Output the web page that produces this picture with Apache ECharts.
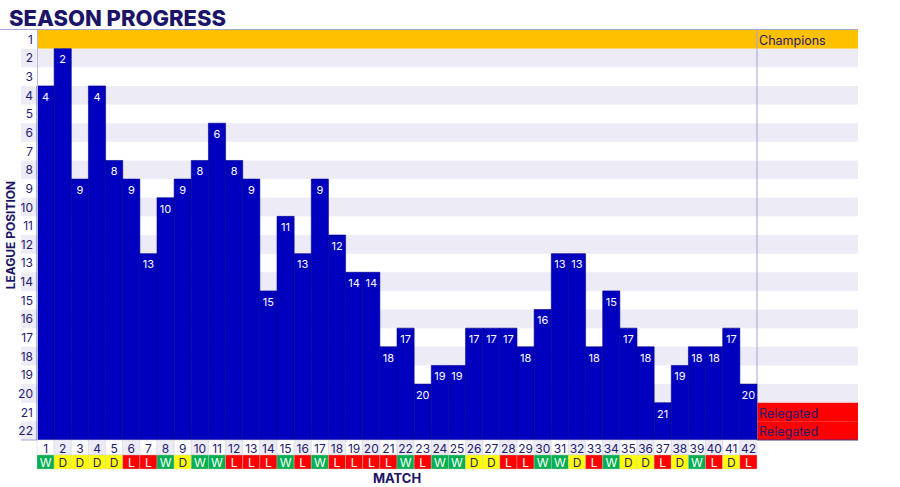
<!DOCTYPE html>
<html><head><meta charset="utf-8">
<script src="https://cdn.jsdelivr.net/npm/echarts@6/dist/echarts.min.js"></script>
<style>html,body{margin:0;padding:0;background:#fff}#c{width:900px;height:487px}</style>
</head><body><div id="c"></div>
<script>
// ---- data ----
const matches = Array.from({length: 42}, (_, i) => String(i + 1));
const positions = [4,2,9,4,8,9,13,10,9,8,6,8,9,15,11,13,9,12,14,14,18,17,20,19,19,17,17,17,18,16,13,13,18,15,17,18,21,19,18,18,17,20];
const results = ['W','D','D','D','D','L','L','W','D','W','W','L','L','L','W','L','W','L','L','L','L','W','L','W','W','D','D','L','L','W','W','D','L','W','D','D','L','D','W','L','D','L'];
const positionLabels = Array.from({length: 22}, (_, i) => String(i + 1));
const zoneRows = [1, 21, 22];
const zoneLabels = ['Champions', 'Relegated', 'Relegated'];

// ---- styles ----
const NAVY = '#1F1B6E';
const BAR = '#0000BE';
const LAV = '#ECEBF6';
const ORANGE = '#FFC000';
const RED = '#FF0000';
const RES_COLORS = {W: '#00B050', D: '#FFFF00', L: '#FF0000'};
const RES_TEXT = {W: '#FFFFFF', D: '#2A2470', L: '#FFFFFF'};
const FONT = 'Inter, "Liberation Sans", sans-serif';
const LABEL_COL = 16;   // width of the y-label band column
const RIGHT_COL = 101;  // width of the annotation column

const chart = echarts.init(document.getElementById('c'), null, {renderer: 'svg'});

function stripes(params, api) {
  const cs = params.coordSys;
  const idx = params.dataIndex;
  const pos = idx + 1;
  const c = api.coord([0, idx]);
  const h = api.size([0, 1])[1];
  const y0 = c[1] - h / 2;
  const children = [];
  const left = cs.x - LABEL_COL;
  const right = cs.x + cs.width + RIGHT_COL;
  if (pos === 1) {
    children.push({type: 'rect', shape: {x: cs.x, y: y0, width: right - cs.x, height: h}, style: {fill: ORANGE}});
  } else if (pos % 2 === 0) {
    children.push({type: 'rect', shape: {x: left, y: y0, width: right - left, height: h}, style: {fill: LAV}});
  }
  children.push({type: 'line', shape: {x1: cs.x + cs.width, y1: y0, x2: cs.x + cs.width, y2: y0 + h}, style: {stroke: '#A3A2D6', lineWidth: 1}});
  if (pos === 22) {
    children.push({type: 'line', shape: {x1: left, y1: y0 + h, x2: cs.x, y2: y0 + h}, style: {stroke: '#A3A2D6', lineWidth: 1}});
  }
  return {type: 'group', children};
}

function bars(params, api) {
  const i = params.dataIndex;
  const pos = positions[i];
  const c = api.coord([i, pos - 1]);
  const bw = api.size([1, 0])[0];
  const bh = api.size([0, 1])[1];
  const top = c[1] - bh / 2;
  const bottom = api.coord([i, positionLabels.length - 1])[1] + bh / 2;
  return {
    type: 'group',
    children: [
      {type: 'rect', shape: {x: c[0] - bw / 2, y: top, width: bw, height: bottom - top},
       style: {fill: BAR, stroke: '#00008C', lineWidth: 0.6}},
      {type: 'text', x: c[0], y: c[1] + 1.5,
       style: {text: String(pos), fill: '#FFFFFF', font: '11px ' + FONT, align: 'center', verticalAlign: 'middle'}}
    ]
  };
}

function cells(params, api) {
  const cs = params.coordSys;
  const i = params.dataIndex;
  const c = api.coord([i, 0]);
  const bw = api.size([1, 0])[0];
  const x0 = c[0] - bw / 2;
  const y0 = cs.y + cs.height;
  const r = results[i];
  return {
    type: 'group',
    children: [
      {type: 'rect', shape: {x: x0, y: y0, width: bw, height: 15},
       style: {fill: (i % 2 === 1) ? LAV : '#FFFFFF', stroke: '#D6D6E4', lineWidth: 0.6}},
      {type: 'text', x: c[0], y: y0 + 8,
       style: {text: matches[i], fill: NAVY, font: '12px ' + FONT, align: 'center', verticalAlign: 'middle'}},
      {type: 'rect', shape: {x: x0, y: y0 + 15, width: bw, height: 14},
       style: {fill: RES_COLORS[r], stroke: '#C8C8C8', lineWidth: 0.4}},
      {type: 'text', x: c[0], y: y0 + 22.5,
       style: {text: r, fill: RES_TEXT[r], font: '12px ' + FONT, align: 'center', verticalAlign: 'middle'}}
    ]
  };
}

function zones(params, api) {
  const cs = params.coordSys;
  const k = params.dataIndex;
  const pos = zoneRows[k];
  const c = api.coord([0, pos - 1]);
  const h = api.size([0, 1])[1];
  const x0 = cs.x + cs.width;
  const children = [];
  if (pos !== 1) {
    children.push({type: 'rect', shape: {x: x0 + 0.5, y: c[1] - h / 2, width: RIGHT_COL - 0.5, height: h}, style: {fill: RED}});
  }
  if (pos === 22) {
    children.push({type: 'line', shape: {x1: x0, y1: c[1] + h / 2, x2: x0 + RIGHT_COL, y2: c[1] + h / 2}, style: {stroke: '#3A3590', lineWidth: 1}});
  }
  children.push({type: 'text', x: x0 + 2, y: c[1] + 1,
    style: {text: zoneLabels[k], fill: NAVY, font: '12.5px ' + FONT, align: 'left', verticalAlign: 'middle'}});
  return {type: 'group', children};
}

chart.setOption({
  animation: false,
  title: {
    text: 'SEASON PROGRESS', left: 4, top: 2,
    textStyle: {fontSize: 22, fontWeight: 800, color: '#1B1468', fontFamily: FONT}
  },
  graphic: [
    {type: 'line', shape: {x1: 0, y1: 29.5, x2: 858, y2: 29.5}, style: {stroke: '#A8A6D4', lineWidth: 1}, z: 100}
  ],
  grid: {left: 37, top: 30, width: 720, height: 410, containLabel: false, outerBoundsMode: 'none'},
  xAxis: {
    type: 'category', data: matches,
    axisLine: {show: false}, axisTick: {show: false}, axisLabel: {show: false},
    name: 'MATCH', nameLocation: 'middle', nameGap: 31, nameMoveOverlap: false,
    nameTextStyle: {fontSize: 13, fontWeight: 'bold', color: '#1B1468', fontFamily: FONT}
  },
  yAxis: {
    type: 'category', data: positionLabels, inverse: true, z: 10,
    axisLine: {show: true, lineStyle: {color: '#B9B8DE', width: 1}},
    axisTick: {show: false},
    axisLabel: {color: NAVY, fontSize: 12, margin: 4, fontFamily: FONT, interval: 0},
    splitLine: {show: false},
    name: 'LEAGUE POSITION', nameLocation: 'middle', nameGap: 21, nameRotate: 90, nameMoveOverlap: false,
    nameTextStyle: {fontSize: 12, fontWeight: 'bold', color: '#1B1468', fontFamily: FONT}
  },
  series: [
    {type: 'custom', name: 'stripes', renderItem: stripes, clip: false, z: 1,
     data: positionLabels.map((_, i) => [0, i]), silent: true},
    {type: 'custom', name: 'zones', renderItem: zones, clip: false, z: 2,
     data: zoneRows.map(p => [0, p - 1]), silent: true},
    {type: 'custom', name: 'position', renderItem: bars, clip: false, z: 3,
     data: positions.map((p, i) => [i, p - 1])},
    {type: 'custom', name: 'results', renderItem: cells, clip: false, z: 4,
     data: results.map((r, i) => [i, 0])}
  ]
});
</script>
</body></html>
